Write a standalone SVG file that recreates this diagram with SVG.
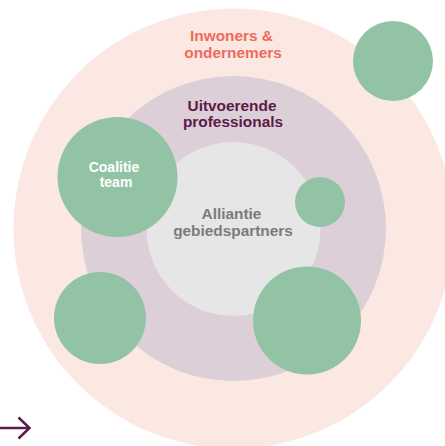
<svg xmlns="http://www.w3.org/2000/svg" width="445" height="446" viewBox="0 0 445 446">
<style>
.green{fill:#93c3a5}
.t{font-family:"Liberation Sans",Arial,sans-serif;font-weight:bold;text-anchor:middle}
.arrow{fill:none;stroke:#5b1a47;stroke-width:2.5;stroke-linecap:butt;stroke-linejoin:miter}
</style>
<rect width="445" height="446" fill="#ffffff"/>
<g id="ring-outer">
<circle cx="233.5" cy="228.5" r="220" fill="#fce8e3"/>
<text class="t" x="231.5" y="41" font-size="15.4" fill="#ee6b5b">Inwoners &amp;</text>
<text class="t" x="233" y="57.5" font-size="15.4" fill="#ee6b5b">ondernemers</text>
</g>
<g id="ring-middle">
<circle cx="233.5" cy="228.5" r="152.5" fill="#dccfd8"/>
<text class="t" x="232" y="110.5" font-size="15.4" fill="#5b1a47">Uitvoerende</text>
<text class="t" x="233" y="127" font-size="15.4" fill="#5b1a47">professionals</text>
</g>
<g id="ring-inner">
<circle cx="233.5" cy="229" r="87" fill="#e6e6e6"/>
<text class="t" x="231.5" y="219" font-size="15.4" fill="#7b7b7b">Alliantie</text>
<text class="t" x="233" y="236" font-size="15.4" fill="#7b7b7b">gebiedspartners</text>
</g>
<g id="node-top-right"><circle class="green" cx="393" cy="61" r="40"/></g>
<g id="node-coalitie">
<circle class="green" cx="117.5" cy="177" r="60"/>
<text class="t" x="114" y="171.5" font-size="14" fill="#ffffff">Coalitie</text>
<text class="t" x="116" y="186.5" font-size="14" fill="#ffffff">team</text>
</g>
<g id="node-small"><circle class="green" cx="320" cy="202" r="25"/></g>
<g id="node-bottom-left"><circle class="green" cx="100" cy="318" r="46"/></g>
<g id="node-bottom-right"><circle class="green" cx="307" cy="320.5" r="54"/></g>
<g id="connectors">
<path class="arrow" d="M0 428 H29.5 M18.5 417.5 L29.5 428 L18.5 438.5"/>
</g>
</svg>
